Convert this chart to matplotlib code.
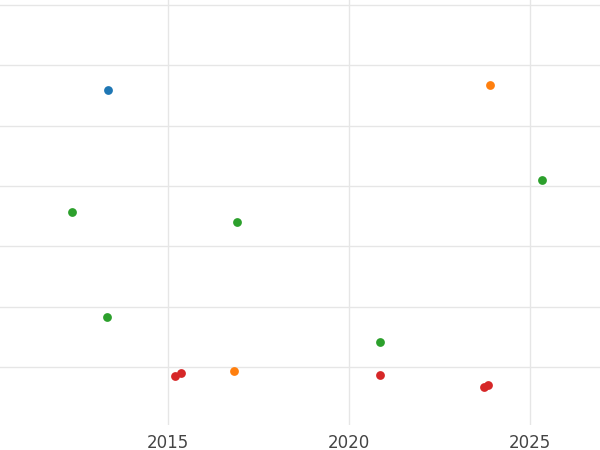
import matplotlib.pyplot as plt

blue_x = [2013.34]; blue_y = [4.59]
orange_x = [2023.9, 2016.82]; orange_y = [4.68, -0.07]
green_x = [2012.35, 2016.9, 2025.33, 2013.32, 2020.86]
green_y = [2.57, 2.40, 3.10, 0.83, 0.41]
red_x = [2015.19, 2015.36, 2020.86, 2023.73, 2023.84]
red_y = [-0.15, -0.10, -0.12, -0.32, -0.30]

fig = plt.figure(figsize=(6, 4.5), dpi=100)
ax = fig.add_axes([0, 0.055, 1, 0.945])
for x, y, c in [(blue_x, blue_y, '#1f77b4'), (orange_x, orange_y, '#ff7f0e'),
                (green_x, green_y, '#2ca02c'), (red_x, red_y, '#d62728')]:
    ax.scatter(x, y, s=40, color=c, zorder=3, linewidths=0)
ax.set_xlim(2010.36, 2026.93)
ax.set_ylim(-0.96, 6.08)
ax.set_xticks([2015, 2020, 2025])
ax.set_yticks([0, 1, 2, 3, 4, 5, 6])
ax.set_yticklabels([])
ax.grid(True, color='#e6e6e6', linewidth=1)
ax.set_axisbelow(True)
for s in ax.spines.values():
    s.set_visible(False)
ax.tick_params(length=0, labelsize=12, labelcolor='#444444', pad=6)
fig.savefig('out.png')
